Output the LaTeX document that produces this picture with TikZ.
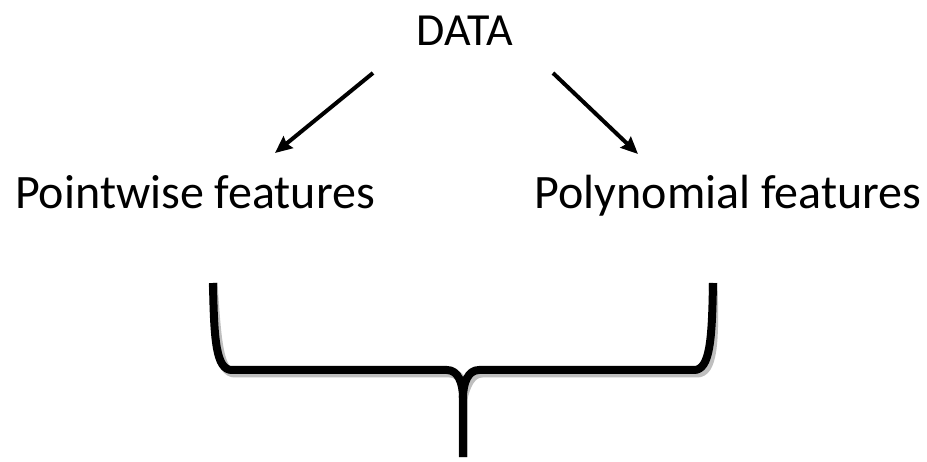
\documentclass[tikz,border=0pt]{standalone}
\usepackage{fontspec}
\setmainfont{Carlito}
\usetikzlibrary{arrows.meta}
\begin{document}
\begin{tikzpicture}[x=1pt,y=-1pt,
  lbl/.style={inner sep=0pt,font=\fontsize{48}{52}\selectfont},
  arr/.style={line width=4pt,-{Stealth[length=17pt,width=15pt,inset=2pt]}},
  brace/.style={line width=8pt,line cap=butt,line join=round},
  braceshadow/.style={brace,draw=black!25,line width=9pt}]
\useasboundingbox[fill=white] (0,0) rectangle (927,462);
\node[lbl,anchor=base,font=\fontsize{46}{50}\selectfont] (data) at (465,46) {DATA};
\node[lbl,anchor=base] (pw) at (195,209) {Pointwise features};
\node[lbl,anchor=base] (poly) at (728,209) {Polynomial features};
\coordinate (l1) at (373,73);
\coordinate (l2) at (275,153);
\coordinate (r1) at (553,73);
\coordinate (r2) at (638,154);
\draw[arr] (l1) -- (l2);
\draw[arr] (r1) -- (r2);
% brace
\coordinate (bl) at (213,283);
\coordinate (br) at (713,283);
\coordinate (bc) at (463,398);
\coordinate (bt) at (463,457);
\begin{scope}[shift={(3,3)}]
\draw[braceshadow] (bl) .. controls (214,340) and (216,370) .. (232,370) -- (447,370)
  .. controls (458,370) and (463,383) .. (bc) -- (bt);
\draw[braceshadow] (br) .. controls (712,340) and (710,370) .. (694,370) -- (479,370)
  .. controls (468,370) and (463,383) .. (bc);
\end{scope}
\draw[brace] (bl) .. controls (214,340) and (216,370) .. (232,370) -- (447,370)
  .. controls (458,370) and (463,383) .. (bc) -- (bt);
\draw[brace] (br) .. controls (712,340) and (710,370) .. (694,370) -- (479,370)
  .. controls (468,370) and (463,383) .. (bc);
\end{tikzpicture}
\end{document}
